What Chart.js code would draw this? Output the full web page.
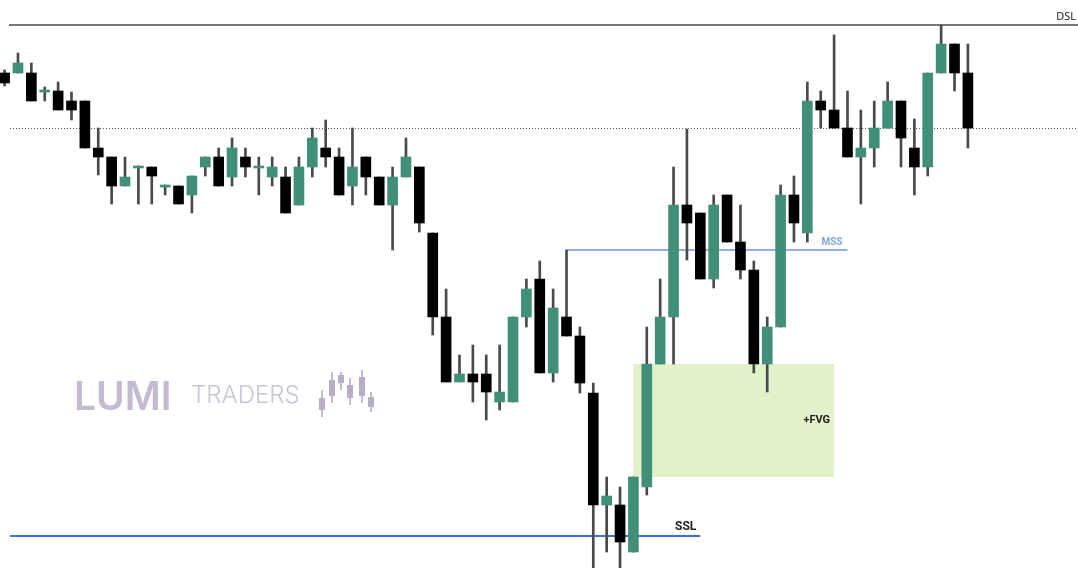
<!DOCTYPE html>
<html>
<head>
<meta charset="utf-8">
<script src="https://cdn.jsdelivr.net/npm/chart.js@4"></script>
<style>
  body { margin: 0; background: #fff; }
  #wrap { width: 1078px; height: 568px; position: relative; }
</style>
</head>
<body>
<div id="wrap"><canvas id="chart"></canvas></div>
<script>
// candle data (price units)
const opens  = [149.5,149.5,149.5,147.6,147.7,146.7,146.7,142.0,141.1,138.2,140.0,140.1,138.1,138.2,137.3,140.1,141.1,139.1,141.1,140.0,139.1,139.1,136.3,140.1,142.0,141.1,138.2,141.1,139.1,136.3,139.1,140.1,133.5,125.1,118.6,119.4,119.4,116.6,116.6,125.1,128.9,119.5,125.1,123.2,117.5,106.3,106.3,101.6,108.1,120.4,125.1,136.3,135.5,128.9,137.3,132.6,129.8,120.4,124.1,137.3,133.5,146.7,145.8,144.0,141.1,142.0,144.0,146.7,142.0,140.1,149.5,152.4,149.5];
const highs  = [149.8,151.5,150.5,148.1,148.6,147.6,146.7,144.0,141.1,141.1,140.2,140.1,138.3,138.2,139.2,141.1,142.0,143.0,142.0,141.1,141.1,140.1,141.1,144.0,144.8,142.0,144.0,141.1,139.1,140.1,143.0,140.1,133.5,127.9,121.3,122.3,121.3,122.3,125.1,128.9,130.7,127.9,131.8,124.1,118.5,109.1,108.1,109.1,124.1,128.9,140.1,143.9,135.5,137.3,137.3,136.3,130.7,125.1,138.3,139.2,148.6,147.7,153.3,147.7,145.8,146.7,148.6,146.7,144.9,149.5,154.3,152.4,152.4];
const lows   = [148.2,149.5,146.7,146.7,145.8,144.8,142.0,139.3,136.4,138.2,136.4,136.4,137.3,136.4,135.5,139.2,138.2,138.2,139.1,137.3,138.2,135.5,136.3,139.1,140.1,137.3,136.3,137.3,136.3,131.8,139.1,133.6,123.3,118.6,118.6,116.6,114.8,115.8,116.6,124.1,119.5,118.6,123.2,117.5,94.8,101.6,94.8,101.6,107.3,120.4,120.4,130.8,128.9,128.0,132.6,128.9,119.5,117.6,124.1,132.6,132.6,144.0,144.0,141.1,136.4,140.1,144.0,140.1,137.3,139.2,149.5,147.7,142.0];
const closes = [148.5,150.5,146.7,147.8,145.8,145.8,142.0,141.1,138.2,139.1,140.2,139.2,138.3,136.4,139.2,141.1,138.2,142.0,140.1,140.2,140.1,135.5,140.1,143.0,141.1,137.3,140.1,139.1,136.3,139.1,141.1,134.5,125.1,118.6,119.4,118.6,117.6,117.6,125.1,127.9,119.5,126.0,123.2,118.5,106.3,107.2,102.6,109.1,120.4,125.1,136.3,134.5,128.9,136.3,132.6,129.8,120.4,124.1,137.3,134.5,146.7,145.8,144.0,141.1,142.0,144.0,146.7,143.0,140.1,149.5,152.4,149.5,144.0];

// annotation levels
const dslLevel = highs[70];
const dottedLevel = 144.0;
const mssLevel = highs[42];
const sslLevel = 103.2;
const fvgStart = 47, fvgEnd = 62;
const fvgTop = lows[49], fvgBottom = highs[47];

const upColor = '#3f8f79';
const downColor = '#000000';
const wickColor = '#4a4a4a';

const idx = opens.map((_, i) => i);
const isUp = idx.map(i => closes[i] >= opens[i]);

const wickData = idx.map(i => ({ x: i, y: [lows[i], highs[i]] }));
const bodyData = idx.map(i => {
    let lo = Math.min(opens[i], closes[i]);
    let hi = Math.max(opens[i], closes[i]);
    if (hi - lo < 0.2) { hi = lo + 0.2; }
    return { x: i, y: [lo, hi] };
});

// draws the levels, zone and watermark through the chart scales
const annotations = {
    id: 'annotations',
    beforeDatasetsDraw(chart) {
        const { ctx, scales: { x, y } } = chart;
        ctx.save();
        // FVG zone
        const zx1 = x.getPixelForValue(fvgStart), zx2 = x.getPixelForValue(fvgEnd);
        const zy1 = y.getPixelForValue(fvgTop), zy2 = y.getPixelForValue(fvgBottom);
        ctx.fillStyle = '#e1f1c9';
        ctx.fillRect(zx1, zy1, zx2 - zx1, zy2 - zy1);

        // watermark
        ctx.fillStyle = '#c4bbd3';
        ctx.font = '600 39px "Inter", "Lato", sans-serif';
        ctx.textBaseline = 'alphabetic';
        ctx.fillText('LUMI', 74, 410);
        ctx.fillStyle = '#cbc3d8';
        ctx.font = '300 24px "Inter", "Lato", sans-serif';
        ctx.fillText('TRADERS', 191, 403);
        const logo = [[322,398,410,390,417],[332,380,396,372,403],[341,375,383,372,390],[350,385,398,378,405],[362,377,396,370,403],[371,397,407,392,412]];
        logo.forEach(c => {
            ctx.fillStyle = '#c3bad0';
            ctx.fillRect(c[0] - 1, c[3], 2, c[4] - c[3]);
            ctx.fillStyle = '#b7adc6';
            ctx.fillRect(c[0] - 3, c[1], 6, c[2] - c[1]);
        });

        // dotted level
        ctx.strokeStyle = '#555';
        ctx.lineWidth = 1;
        ctx.setLineDash([1, 2]);
        ctx.beginPath();
        const dy = Math.round(y.getPixelForValue(dottedLevel)) + 0.5;
        ctx.moveTo(x.getPixelForValue(0.4), dy);
        ctx.lineTo(chart.width, dy);
        ctx.stroke();
        ctx.setLineDash([]);

        // DSL
        ctx.strokeStyle = '#777';
        ctx.lineWidth = 2;
        ctx.beginPath();
        const sy = y.getPixelForValue(dslLevel);
        ctx.moveTo(x.getPixelForValue(0.33), sy);
        ctx.lineTo(chart.width, sy);
        ctx.stroke();

        // MSS
        ctx.strokeStyle = '#6f95dd';
        ctx.lineWidth = 1.5;
        ctx.beginPath();
        const my = y.getPixelForValue(mssLevel);
        ctx.moveTo(x.getPixelForValue(42), my);
        ctx.lineTo(x.getPixelForValue(63), my);
        ctx.stroke();

        // SSL
        ctx.strokeStyle = '#3b6fdc';
        ctx.lineWidth = 2;
        ctx.beginPath();
        const ly = y.getPixelForValue(sslLevel);
        ctx.moveTo(x.getPixelForValue(0.4), ly);
        ctx.lineTo(x.getPixelForValue(52), ly);
        ctx.stroke();
        ctx.restore();
    },
    afterDatasetsDraw(chart) {
        const { ctx, scales: { x, y } } = chart;
        ctx.save();
        ctx.textAlign = 'right';
        ctx.textBaseline = 'alphabetic';
        ctx.fillStyle = '#111';
        ctx.font = '11px "Open Sans", sans-serif';
        ctx.fillText('DSL', 1076, y.getPixelForValue(dslLevel) - 5);

        ctx.fillStyle = '#86a5e3';
        ctx.font = 'bold 10px "Roboto", sans-serif';
        ctx.fillText('MSS', x.getPixelForValue(63) - 5, y.getPixelForValue(mssLevel) - 5);

        ctx.fillStyle = '#222';
        ctx.font = 'bold 12px "Roboto", sans-serif';
        ctx.fillText('SSL', x.getPixelForValue(52) - 4, y.getPixelForValue(sslLevel) - 6);

        ctx.font = 'bold 11px "Roboto", sans-serif';
        ctx.textBaseline = 'middle';
        ctx.fillText('+FVG', x.getPixelForValue(fvgEnd) - 4, (y.getPixelForValue(fvgTop) + y.getPixelForValue(fvgBottom)) / 2);
        ctx.restore();
    }
};

new Chart(document.getElementById('chart'), {
    type: 'bar',
    data: {
        datasets: [
            {
                label: 'Wicks',
                data: wickData,
                backgroundColor: wickColor,
                barThickness: 2,
                grouped: false,
                order: 2
            },
            {
                label: 'Bodies',
                data: bodyData,
                backgroundColor: idx.map(i => isUp[i] ? upColor : downColor),
                barThickness: 10,
                grouped: false,
                order: 1
            }
        ]
    },
    plugins: [annotations],
    options: {
        responsive: true,
        maintainAspectRatio: false,
        animation: false,
        layout: { padding: 0 },
        plugins: {
            legend: { display: false },
            tooltip: { enabled: false }
        },
        scales: {
            x: { type: 'linear', min: -0.344, max: 80.23, offset: false, display: false },
            y: { min: 100, max: 156.8, display: false }
        }
    }
});
</script>
</body>
</html>
